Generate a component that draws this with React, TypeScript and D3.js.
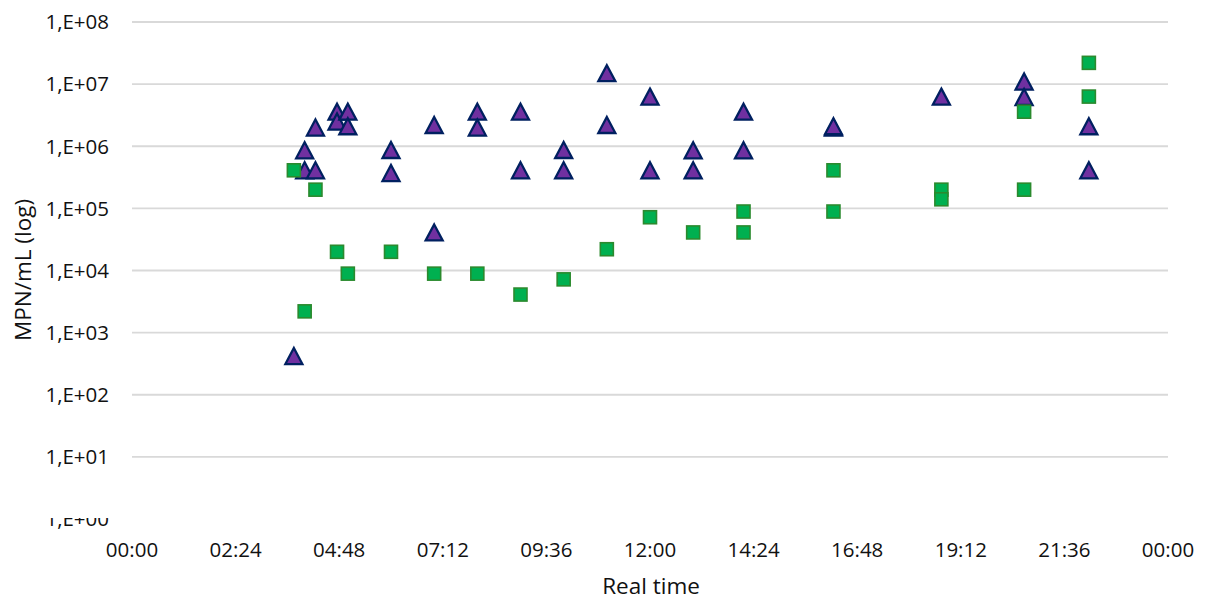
import React from "react";
import * as d3 from "d3";

// Purple triangles series
const triTimes = [
  "3:45", "4:00", "4:00", "4:15", "4:15", "4:45", "4:45", "5:00", "5:00",
  "6:00", "6:00", "7:00", "7:00", "8:00", "8:00", "9:00", "9:00", "10:00", "10:00",
  "11:00", "11:00", "12:00", "12:00", "13:00", "13:00", "14:10", "14:10",
  "16:15", "16:15", "18:45", "20:40", "20:40", "22:10", "22:10",
];
const triValues = [
  420, 8.6e5, 4.1e5, 2.0e6, 4.1e5, 3.6e6, 2.5e6, 3.6e6, 2.1e6,
  8.7e5, 3.7e5, 4.1e4, 2.2e6, 3.6e6, 2.0e6, 3.6e6, 4.1e5, 8.7e5, 4.1e5,
  1.5e7, 2.2e6, 6.3e6, 4.1e5, 8.6e5, 4.1e5, 3.6e6, 8.6e5,
  2.0e6, 2.1e6, 6.3e6, 1.1e7, 6.2e6, 2.1e6, 4.1e5,
];

// Green squares series
const sqTimes = [
  "3:45", "4:00", "4:15", "4:45", "5:00", "6:00", "7:00", "8:00", "9:00", "10:00",
  "11:00", "12:00", "13:00", "14:10", "14:10", "16:15", "16:15", "18:45", "18:45",
  "20:40", "20:40", "22:10", "22:10",
];
const sqValues = [
  4.1e5, 2.2e3, 2.0e5, 2.0e4, 8.9e3, 2.0e4, 8.9e3, 8.9e3, 4.1e3, 7.2e3,
  2.2e4, 7.2e4, 4.1e4, 8.9e4, 4.1e4, 4.1e5, 8.9e4, 2.0e5, 1.4e5,
  3.6e6, 2.0e5, 2.2e7, 6.3e6,
];

const yTickValues = [1, 1e1, 1e2, 1e3, 1e4, 1e5, 1e6, 1e7, 1e8];
const yTickLabels = ["1,E+00", "1,E+01", "1,E+02", "1,E+03", "1,E+04", "1,E+05", "1,E+06", "1,E+07", "1,E+08"];
const xTickMinutes = [0, 144, 288, 432, 576, 720, 864, 1008, 1152, 1296, 1440];
const xTickLabels = ["00:00", "02:24", "04:48", "07:12", "09:36", "12:00", "14:24", "16:48", "19:12", "21:36", "00:00"];

const xTitle = "Real time";
const yTitle = "MPN/mL (log)";

const toMin = (s: string) => {
  const [h, m] = s.split(":").map(Number);
  return h * 60 + m;
};

export default function App() {
  const W = 1205, H = 600;
  const x = d3.scaleLinear().domain([0, 1440]).range([132, 1168]);
  const y = d3.scaleLog().domain([1, 1e8]).range([519, 22]);
  const font = "'Open Sans', sans-serif";
  const tickSize = 20.5;
  const titleSize = 22.5;

  const triW = 17, triH = 16;
  const sq = 13;

  return (
    <svg width={W} height={H} style={{ position: "absolute", left: 0, top: 0, background: "#fff" }}>
      <defs>
        <clipPath id="clipBottomLabel">
          <rect x={0} y={518} width={130} height={40} />
        </clipPath>
      </defs>
      <rect x={0} y={0} width={W} height={H} fill="#fff" />
      {/* gridlines */}
      {yTickValues.slice(1).map((v) => (
        <line key={"g" + v} x1={x(0)} x2={x(1440)} y1={y(v)} y2={y(v)} stroke="#D9D9D9" strokeWidth={1.8} />
      ))}
      {/* y tick labels */}
      {yTickValues.map((v, i) => (
        <text
          key={"yl" + v}
          x={109}
          y={y(v) + tickSize * 0.357}
          textAnchor="end"
          fontFamily={font}
          fontSize={tickSize}
          fill="#111"
          clipPath={i === 0 ? "url(#clipBottomLabel)" : undefined}
        >
          {yTickLabels[i]}
        </text>
      ))}
      {/* x tick labels */}
      {xTickMinutes.map((m, i) => (
        <text key={"xl" + i} x={x(m)} y={557} textAnchor="middle" fontFamily={font} fontSize={tickSize} fill="#111">
          {xTickLabels[i]}
        </text>
      ))}
      {/* axis titles */}
      <text x={651} y={594} textAnchor="middle" fontFamily={font} fontSize={titleSize} fill="#111">
        {xTitle}
      </text>
      <text
        transform={`translate(31,270) rotate(-90)`}
        textAnchor="middle"
        fontFamily={font}
        fontSize={titleSize}
        fill="#111"
      >
        {yTitle}
      </text>
      {/* triangles */}
      {triTimes.map((t, i) => {
        const cx = x(toMin(t));
        const cy = y(triValues[i]);
        const p = `M${cx},${cy - triH / 2} L${cx + triW / 2},${cy + triH / 2} L${cx - triW / 2},${cy + triH / 2} Z`;
        return <path key={"t" + i} d={p} fill="#7030A0" stroke="#002060" strokeWidth={2.3} strokeLinejoin="miter" />;
      })}
      {/* squares */}
      {sqTimes.map((t, i) => {
        const cx = x(toMin(t));
        const cy = y(sqValues[i]);
        return (
          <rect
            key={"s" + i}
            x={cx - sq / 2}
            y={cy - sq / 2}
            width={sq}
            height={sq}
            fill="#00B050"
            stroke="#2B8A2E"
            strokeWidth={1.6}
          />
        );
      })}
    </svg>
  );
}
